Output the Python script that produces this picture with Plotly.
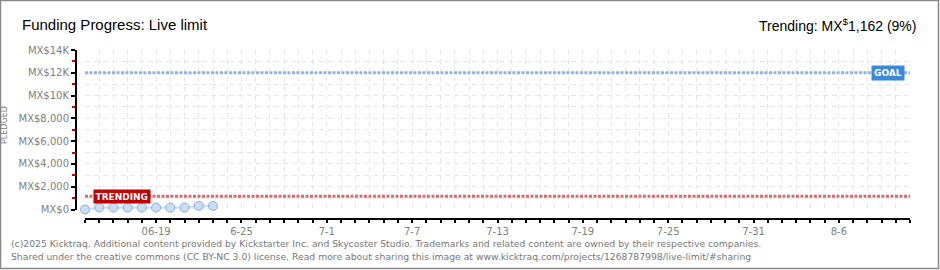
import plotly.graph_objects as go

# ---- data ----
dates = ["2025-06-14", "2025-06-15", "2025-06-16", "2025-06-17", "2025-06-18",
         "2025-06-19", "2025-06-20", "2025-06-21", "2025-06-22", "2025-06-23"]
pledged = [0, 170, 170, 170, 170, 170, 170, 170, 320, 320]
goal = 12000
trending = 1162
trending_pct = 9
range_start = "2025-06-14"
range_end = "2025-08-11"
xtick_vals = ["2025-06-19", "2025-06-25", "2025-07-01", "2025-07-07", "2025-07-13",
              "2025-07-19", "2025-07-25", "2025-07-31", "2025-08-06"]
xtick_text = ["06-19", "6-25", "7-1", "7-7", "7-13", "7-19", "7-25", "7-31", "8-6"]
ytick_vals = [0, 2000, 4000, 6000, 8000, 10000, 12000, 14000]
ytick_text = ["MX$0", "MX$2,000", "MX$4,000", "MX$6,000", "MX$8,000",
              "MX$10K", "MX$12K", "MX$14K"]

W, H = 940, 270
L, R, T, B = 76, 910, 50, 219   # paper area in pixels


def px(x):
    return (x - L) / (R - L)


def py(y):
    return (B - y) / (B - T)


fig = go.Figure()

# goal line
fig.add_trace(go.Scatter(
    x=[range_start, range_end], y=[goal, goal], mode="lines",
    line=dict(color="#8fb5e4", width=3, dash="3px,1.5px"),
    hoverinfo="skip", showlegend=False, cliponaxis=False))
# trending line
fig.add_trace(go.Scatter(
    x=[range_start, range_end], y=[trending, trending], mode="lines",
    line=dict(color="#d46e6e", width=3, dash="3px,1.5px"),
    hoverinfo="skip", showlegend=False, cliponaxis=False))
# pledged
fig.add_trace(go.Scatter(
    x=dates, y=pledged, mode="lines+markers",
    line=dict(color="#c9def5", width=2),
    fill="tozeroy", fillcolor="rgba(200,222,245,0.35)",
    marker=dict(size=9, color="#c8ddf6", line=dict(color="#8eadd3", width=1)),
    showlegend=False, cliponaxis=False))

grid_col = "#e6e6e6"
fig.update_layout(
    width=W, height=H,
    margin=dict(l=L, r=W - R, t=T, b=H - B),
    paper_bgcolor="white", plot_bgcolor="white",
    xaxis=dict(
        type="date", range=[range_start, range_end],
        domain=[px(85), 1], anchor="free", position=0,
        tickmode="array", tickvals=xtick_vals, ticktext=xtick_text,
        ticks="outside", ticklen=3, tickwidth=1.5, tickcolor="black",
        showline=True, linecolor="black", linewidth=2,
        showgrid=True, gridcolor=grid_col, griddash="5px,4px", gridwidth=1,
        minor=dict(dtick=86400000, tick0=range_start, ticks="outside",
                   ticklen=3, tickwidth=1.5, tickcolor="black",
                   showgrid=True, gridcolor=grid_col, griddash="5px,4px", gridwidth=1),
        tickfont=dict(family="DejaVu Sans", size=10, color="#808080"),
        zeroline=False, fixedrange=True,
    ),
    yaxis=dict(
        range=[-44, 14000], domain=[py(210), 1], anchor="free", position=0,
        tickmode="array", tickvals=ytick_vals, ticktext=ytick_text,
        ticks="outside", ticklen=4, tickwidth=2, tickcolor="black",
        showline=True, linecolor="black", linewidth=2,
        showgrid=True, gridcolor=grid_col, griddash="5px,4px", gridwidth=1,
        minor=dict(dtick=1000, tick0=0, ticks="outside", ticklen=3, tickwidth=2,
                   tickcolor="#dd0000", showgrid=True, gridcolor=grid_col,
                   griddash="5px,4px", gridwidth=1),
        tickfont=dict(family="DejaVu Sans", size=10, color="#808080"),
        zeroline=False, fixedrange=True,
    ),
)

# labels on lines
fig.add_annotation(x=range_end, y=goal, xref="x", yref="y", text="<b>GOAL</b>",
                   showarrow=False, xanchor="right", yanchor="middle", xshift=-5,
                   bgcolor="#3b88d8", borderpad=2,
                   font=dict(family="DejaVu Sans", size=9, color="white"))
fig.add_annotation(x=range_start, y=trending, xref="x", yref="y", text="<b>TRENDING</b>",
                   showarrow=False, xanchor="left", yanchor="middle", xshift=8,
                   bgcolor="#c00000", borderpad=1.5,
                   font=dict(family="DejaVu Sans", size=9, color="white"))

# titles
fig.add_annotation(x=px(20), y=py(25), xref="paper", yref="paper",
                   text="Funding Progress: Live limit", showarrow=False,
                   xanchor="left", yanchor="middle",
                   font=dict(family="Liberation Sans", size=15, color="black"))
fig.add_annotation(x=px(918), y=py(25), xref="paper", yref="paper",
                   text="Trending: MX<sup>$</sup>1,162 (%d%%)" % trending_pct, showarrow=False,
                   xanchor="right", yanchor="middle",
                   font=dict(family="Liberation Sans", size=14, color="black"))
fig.add_annotation(x=px(4), y=py(125), xref="paper", yref="paper", text="PLEDGED",
                   showarrow=False, textangle=-90, xanchor="center", yanchor="middle",
                   font=dict(family="DejaVu Sans", size=8, color="#808080"))

# footer
footer1 = ("(c)2025 Kicktraq. Additional content provided by Kickstarter Inc. and Skycoster Studio. "
           "Trademarks and related content are owned by their respective companies.")
footer2 = ("Shared under the creative commons (CC BY-NC 3.0) license. Read more about sharing "
           "this image at www.kicktraq.com/projects/1268787998/live-limit/#sharing")
for txt, yy in [(footer1, 243), (footer2, 256)]:
    fig.add_annotation(x=px(9), y=py(yy), xref="paper", yref="paper", text=txt,
                       showarrow=False, xanchor="left", yanchor="middle",
                       font=dict(family="DejaVu Sans", size=9.25, color="#777777"))

# frame
fig.add_shape(type="rect", xref="paper", yref="paper",
              x0=px(0.5), x1=px(938.5), y0=py(268.5), y1=py(0.5),
              line=dict(color="#888888", width=1.5), layer="above")

fig.write_html("out.html")
